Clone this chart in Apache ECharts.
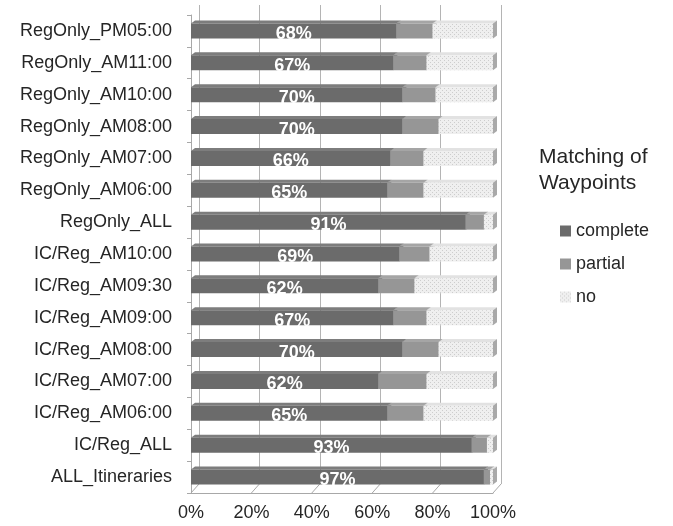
<!DOCTYPE html>
<html>
<head>
<meta charset="utf-8">
<script src="https://cdn.jsdelivr.net/npm/echarts@6/dist/echarts.min.js"></script>
<style>
  html, body { margin: 0; padding: 0; background: #ffffff; }
  #chart { width: 673px; height: 526px; }
</style>
</head>
<body>
<div id="chart"></div>
<script>
// Categories listed bottom to top
const categories = [
  'ALL_Itineraries', 'IC/Reg_ALL', 'IC/Reg_AM06:00', 'IC/Reg_AM07:00',
  'IC/Reg_AM08:00', 'IC/Reg_AM09:00', 'IC/Reg_AM09:30', 'IC/Reg_AM10:00',
  'RegOnly_ALL', 'RegOnly_AM06:00', 'RegOnly_AM07:00', 'RegOnly_AM08:00',
  'RegOnly_AM10:00', 'RegOnly_AM11:00', 'RegOnly_PM05:00'
];
// Share of waypoints (%) per itinerary group
const complete = [97, 93, 65, 62, 70, 67, 62, 69, 91, 65, 66, 70, 70, 67, 68];
const partial  = [ 2,  5, 12, 16, 12, 11, 12, 10,  6, 12, 11, 12, 11, 11, 12];
const none     = [ 1,  2, 23, 22, 18, 22, 26, 21,  3, 23, 23, 18, 19, 22, 20];
const xTicks = [0, 20, 40, 60, 80, 100];

const FONT = '"Liberation Sans", Arial, sans-serif';
const TEXT_COLOR = '#262626';

// small dotted tile used for the "no" segments
function dotTile() {
  const c = document.createElement('canvas');
  c.width = 4; c.height = 4;
  const g = c.getContext('2d');
  g.fillStyle = '#efefef'; g.fillRect(0, 0, 4, 4);
  g.fillStyle = '#cdcdcd'; g.fillRect(0, 0, 1, 1); g.fillRect(2, 2, 1, 1);
  return c;
}
const noFill = { image: dotTile(), repeat: 'repeat' };

// bar geometry: front face height and the depth offset of top/side faces
const BAR_H = 15, DX = 4, DY = -3;

function cumulative(prev) {
  return prev.reduce((acc, arr) => acc.map((a, i) => a + arr[i]), categories.map(() => 0));
}

function segmentSeries(name, values, offsets, front, top, side, withLabel) {
  return {
    type: 'custom',
    name: name,
    xAxisIndex: 0,
    yAxisIndex: 0,
    itemStyle: { color: front },
    data: values.map((v, i) => [offsets[i], offsets[i] + v, i, v]),
    encode: { x: [0, 1], y: 2 },
    renderItem: function (params, api) {
      const s = api.coord([api.value(0), api.value(2)]);
      const e = api.coord([api.value(1), api.value(2)]);
      const cy = s[1];
      const y0 = cy - BAR_H / 2, y1 = cy + BAR_H / 2;
      const x0 = s[0], x1 = e[0];
      const children = [
        { type: 'polygon', shape: { points: [[x0, y0], [x0 + DX, y0 + DY], [x1 + DX, y0 + DY], [x1, y0]] }, style: { fill: top } },
        { type: 'polygon', shape: { points: [[x1, y0], [x1 + DX, y0 + DY], [x1 + DX, y1 + DY], [x1, y1]] }, style: { fill: side } },
        { type: 'rect', shape: { x: x0, y: y0, width: x1 - x0, height: BAR_H }, style: { fill: front } }
      ];
      if (withLabel) {
        children.push({
          type: 'text', x: (x0 + x1) / 2, y: cy + 3,
          style: { text: api.value(3) + '%', fill: '#ffffff', font: 'bold 18px ' + FONT, textAlign: 'center', textVerticalAlign: 'middle' }
        });
      }
      return { type: 'group', children: children };
    }
  };
}

const zeros = categories.map(() => 0);
const offPartial = cumulative([complete]);
const offNone = cumulative([complete, partial]);

const chart = echarts.init(document.getElementById('chart'), null, { renderer: 'canvas' });

chart.setOption({
  animation: false,
  backgroundColor: '#ffffff',
  title: {
    text: 'Matching of\nWaypoints',
    left: 539, top: 144, padding: 0,
    textStyle: { fontFamily: FONT, fontSize: 21, fontWeight: 'normal', color: TEXT_COLOR, lineHeight: 26 }
  },
  legend: {
    orient: 'vertical',
    left: 555, top: 217,
    itemWidth: 11, itemHeight: 11, itemGap: 15,
    icon: 'rect',
    data: ['complete', 'partial', 'no'],
    textStyle: { fontFamily: FONT, fontSize: 18, color: TEXT_COLOR }
  },
  grid: [
    // front plane: bars and axes
    { left: 191, right: 180, top: 15, bottom: 33 },
    // back wall: gridlines
    { left: 199, right: 172, top: 5, bottom: 42 }
  ],
  xAxis: [
    {
      gridIndex: 0, type: 'value', min: 0, max: 100, interval: 20,
      axisLine: { show: true, lineStyle: { color: '#a8a8a8' } },
      axisTick: { show: false },
      splitLine: { show: false },
      axisLabel: { formatter: '{value}%', fontFamily: FONT, fontSize: 18, color: TEXT_COLOR, margin: 11 }
    },
    {
      gridIndex: 1, type: 'value', min: 0, max: 100, interval: 20,
      axisLine: { show: false }, axisTick: { show: false }, axisLabel: { show: false },
      splitLine: { show: true, lineStyle: { color: '#b4b4b4', width: 1 } }
    }
  ],
  yAxis: [
    {
      gridIndex: 0, type: 'category', data: categories,
      offset: 5,
      axisLine: { show: true, lineStyle: { color: '#a8a8a8' } },
      axisTick: { show: true, length: 4, lineStyle: { color: '#a8a8a8' } },
      axisLabel: { fontFamily: FONT, fontSize: 18, color: TEXT_COLOR, margin: 14 }
    },
    { gridIndex: 1, type: 'category', data: categories, show: false }
  ],
  series: [
    // floor edges running from the front axis to the back wall
    {
      type: 'custom', name: 'floor', xAxisIndex: 0, yAxisIndex: 0, silent: true,
      data: xTicks.map(v => [v, 0]),
      encode: { x: 0, y: 1 },
      renderItem: function (params, api) {
        const p = api.coord([api.value(0), 0]);
        const bottom = params.coordSys.y + params.coordSys.height;
        return { type: 'line', shape: { x1: p[0], y1: bottom, x2: p[0] + 8, y2: bottom - 9 }, style: { stroke: '#a8a8a8', lineWidth: 1 } };
      }
    },
    segmentSeries('complete', complete, zeros, '#6b6b6b', '#7d7d7d', '#595959', true),
    segmentSeries('partial', partial, offPartial, '#969696', '#a5a5a5', '#848484', false),
    segmentSeries('no', none, offNone, noFill, '#e2e2e2', '#a9a9a9', false)
  ]
});
</script>
</body>
</html>
